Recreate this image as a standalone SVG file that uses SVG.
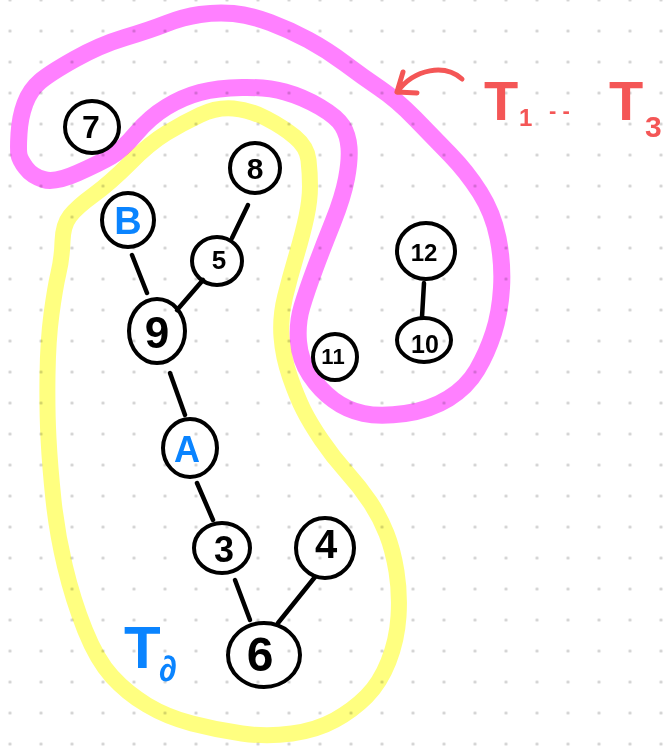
<svg xmlns="http://www.w3.org/2000/svg" width="667" height="752" viewBox="0 0 667 752">
<defs>
<pattern id="grid" x="-5.5" y="-15.5" width="31" height="31" patternUnits="userSpaceOnUse">
<circle cx="15.5" cy="15.5" r="1.6" fill="#cfcfcf"/>
</pattern>
<style>
.hl{fill:none;stroke-linecap:round;stroke-linejoin:round;mix-blend-mode:multiply}
.yl{stroke:#ffff80;stroke-width:16}
.pk{stroke:#ff80ff;stroke-width:17}
.nd{fill:none;stroke:#000;stroke-width:4}
.ed{stroke:#000;stroke-width:4.5;stroke-linecap:round;fill:none}
.lb{font-family:"Liberation Sans",Arial,sans-serif;font-weight:bold;text-anchor:middle;fill:#000}
.bl{fill:#0a84ff}
.red{font-family:"Liberation Sans",Arial,sans-serif;font-weight:bold;fill:#f45656}
</style>
</defs>
<rect width="667" height="752" fill="#fff"/>
<rect width="667" height="752" fill="url(#grid)"/>

<g id="group-T0">
<path class="hl yl" d="M58.5,273 Q55,288 51.5,314 Q48,340 47.5,375 Q47,410 48.5,438.5 Q50,467 53.5,500 Q57,533 65,566.5 Q73,600 85,630 Q97,660 112,676.5 Q127,693 147,705 Q167,717 192,723.5 Q217,730 242,733.5 Q267,737 292,733.5 Q317,730 335,720 Q353,710 366.5,696.5 Q380,683 388.5,661.5 Q397,640 398.5,616.5 Q400,593 396.5,571.5 Q393,550 386.5,533.5 Q380,517 370,502 Q360,487 346.5,472 Q333,457 321.5,440 Q310,423 303.5,410 Q297,397 290,377 Q283,357 281.5,337 Q280,317 285,297 Q290,277 296.5,255 Q303,233 306.5,216.5 Q310,200 310,186.5 Q310,173 308.5,160 Q307,147 295,137 Q283,127 266.5,118.5 Q250,110 233.5,108.5 Q217,107 200,115 Q183,123 166.5,133 Q150,143 130,163 Q110,183 93.5,195 Q77,207 70,216 Q63,225 62.5,241.5 Q62,258 58.5,273 Z"/>
</g>
<g id="group-T1-T3">
<path class="hl pk" d="M19,155 Q18,150 19,133.5 Q20,117 25,103.5 Q30,90 40,81.5 Q50,73 75,59 Q100,45 125,37.5 Q150,30 166.5,23.5 Q183,17 200,14.5 Q217,12 233.5,13.5 Q250,15 270,22.5 Q290,30 308.5,40 Q327,50 345,63.5 Q363,77 380,88.5 Q397,100 415,118.5 Q433,137 450,154.5 Q467,172 480,192.5 Q493,213 498,238 Q503,263 501.5,288 Q500,313 493.5,333 Q487,353 477,370 Q467,387 448.5,398.5 Q430,410 405,413.5 Q380,417 363.5,413.5 Q347,410 333.5,400 Q320,390 310,375 Q300,360 298.5,341.5 Q297,323 302,306.5 Q307,290 315,268.5 Q323,247 333,222 Q343,197 346.5,178.5 Q350,160 349,147.5 Q348,135 342.5,126 Q337,117 320,107 Q303,97 285,92 Q267,87 242,87.5 Q217,88 200,92.5 Q183,97 166.5,107 Q150,117 136,133.5 Q122,150 111,156.5 Q100,163 77.5,173 Q55,183 43.5,179.5 Q32,176 26,168 Q20,160 19,155 Z"/>
</g>

<g id="connectors">
<line class="ed" x1="132" y1="255" x2="147" y2="293"/>
<line class="ed" x1="248" y1="205" x2="232" y2="238"/>
<line class="ed" x1="203" y1="280" x2="177" y2="310"/>
<line class="ed" x1="170" y1="373" x2="185" y2="415"/>
<line class="ed" x1="197" y1="483" x2="213" y2="520"/>
<line class="ed" x1="235" y1="580" x2="250" y2="620"/>
<line class="ed" x1="315" y1="577" x2="278" y2="623"/>
<line class="ed" x1="424" y1="283" x2="422" y2="317"/>
</g>

<g id="node-7"><ellipse class="nd" cx="92" cy="127" rx="27" ry="26"/><text class="lb" x="91" y="138" font-size="32">7</text></g>
<g id="node-8"><ellipse class="nd" cx="255" cy="168" rx="25" ry="25"/><text class="lb" x="255" y="179" font-size="30">8</text></g>
<g id="node-B"><ellipse class="nd" cx="128" cy="220" rx="26" ry="27"/><text class="lb bl" x="128" y="234" font-size="38">B</text></g>
<g id="node-5"><ellipse class="nd" cx="217" cy="261" rx="25" ry="24"/><text class="lb" x="219" y="269" font-size="26">5</text></g>
<g id="node-9"><ellipse class="nd" cx="157" cy="331" rx="28" ry="32"/><text class="lb" x="157" y="348" font-size="44">9</text></g>
<g id="node-11"><ellipse class="nd" cx="335" cy="357" rx="22" ry="23"/><text class="lb" x="333" y="364" font-size="22">11</text></g>
<g id="node-12"><ellipse class="nd" cx="426" cy="251" rx="29" ry="28"/><text class="lb" x="424" y="261" font-size="24">12</text></g>
<g id="node-10"><ellipse class="nd" cx="424" cy="340" rx="27" ry="22"/><text class="lb" x="425" y="353" font-size="25">10</text></g>
<g id="node-A"><ellipse class="nd" cx="190" cy="448" rx="27" ry="29"/><text class="lb bl" x="187" y="462" font-size="36">A</text></g>
<g id="node-3"><ellipse class="nd" cx="222" cy="548" rx="28" ry="25"/><text class="lb" x="224" y="562" font-size="36">3</text></g>
<g id="node-4"><ellipse class="nd" cx="325" cy="548" rx="29" ry="30"/><text class="lb" x="326" y="558" font-size="40">4</text></g>
<g id="node-6"><ellipse class="nd" cx="264" cy="655" rx="36" ry="32"/><text class="lb" x="260" y="671" font-size="48">6</text></g>

<g id="label-T1-T3">
<path d="M462,79 C445,64 415,68 397,92 M403,72 L397,92 L417,93" fill="none" stroke="#f45656" stroke-width="5" stroke-linecap="round" stroke-linejoin="round"/>
<text class="red"><tspan x="484" y="120" font-size="56">T</tspan><tspan x="519" y="126" font-size="24">1</tspan><tspan x="549" y="118" font-size="22">- -</tspan><tspan x="609" y="120" font-size="56">T</tspan><tspan x="645" y="137" font-size="30">3</tspan></text>
</g>
<g id="label-T0">
<text font-family="&quot;Liberation Sans&quot;,Arial,sans-serif" font-weight="bold" fill="#0a84ff"><tspan x="124" y="668" font-size="60">T</tspan><tspan x="159" y="681" font-size="36">∂</tspan></text>
</g>
</svg>
